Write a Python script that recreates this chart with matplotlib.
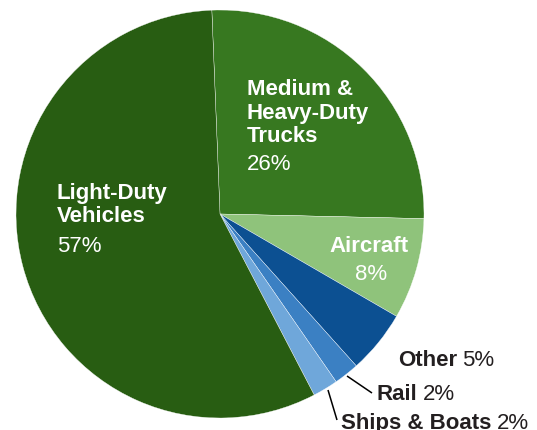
import matplotlib.pyplot as plt

# transportation shares, clockwise from the top
names = ["Medium &\nHeavy-Duty\nTrucks", "Aircraft", "Other", "Rail", "Ships & Boats", "Light-Duty\nVehicles"]
shares = [26, 8, 5, 2, 2, 57]
colors = ["#377820", "#8fc37b", "#0c5092", "#3b80c3", "#6fa7da", "#285d12"]

W, H = 537, 431
CX, CY, R = 220, 215, 204
FONT = "Liberation Sans"
FS = 16
LINE = 23.5


def px(x, y):
    # pixel position (origin top-left) -> data coords of the pie axes
    return (x - CX) / R, (CY - y) / R


fig = plt.figure(figsize=(W / 100, H / 100), dpi=100)
ax = fig.add_axes([0, 0, 1, 1])
ax.pie(shares, colors=colors, startangle=92.3, counterclock=False, radius=1,
       wedgeprops=dict(edgecolor="white", linewidth=0.25))
ax.set_xlim(-CX / R, (W - CX) / R)
ax.set_ylim(-(H - CY) / R, CY / R)
ax.set_aspect("equal")
ax.axis("off")


def inside(i, x, y, pct_y, ha="left", pct_x=None):
    lines = names[i].split("\n")
    for k, line in enumerate(lines):
        ax.text(*px(x, y + k * LINE), line, color="white", fontsize=FS,
                fontweight="bold", family=FONT, ha=ha, va="baseline")
    ax.text(*px(pct_x if pct_x is not None else x, pct_y), f"{shares[i]}%",
            color="white", fontsize=FS, family=FONT, ha=ha, va="baseline")


inside(0, 247, 95, 170)
inside(5, 57, 199, 252)
inside(1, 369, 252, 280, ha="center", pct_x=371)

# small slices get their labels outside the pie
fig.canvas.draw()
renderer = fig.canvas.get_renderer()
ink = "#231f20"
for i, (x, y) in zip([2, 3, 4], [(398, 366), (377, 400), (341, 429)]):
    t = ax.text(*px(x, y), names[i], color=ink, fontsize=FS, fontweight="bold",
                family=FONT, ha="left", va="baseline")
    w = t.get_window_extent(renderer).width
    ax.text(*px(x + w + 5, y), f"{shares[i]}%", color=ink, fontsize=FS,
            family=FONT, ha="left", va="baseline")

# leader lines for Rail and Ships & Boats
for (x0, y0), (x1, y1) in [((347, 377), (372, 394)), ((328, 391), (337, 421))]:
    (a, b), (c, d) = px(x0, y0), px(x1, y1)
    ax.plot([a, c], [b, d], color="black", lw=1.1, solid_capstyle="butt")

fig.savefig("out.png", dpi=100)
